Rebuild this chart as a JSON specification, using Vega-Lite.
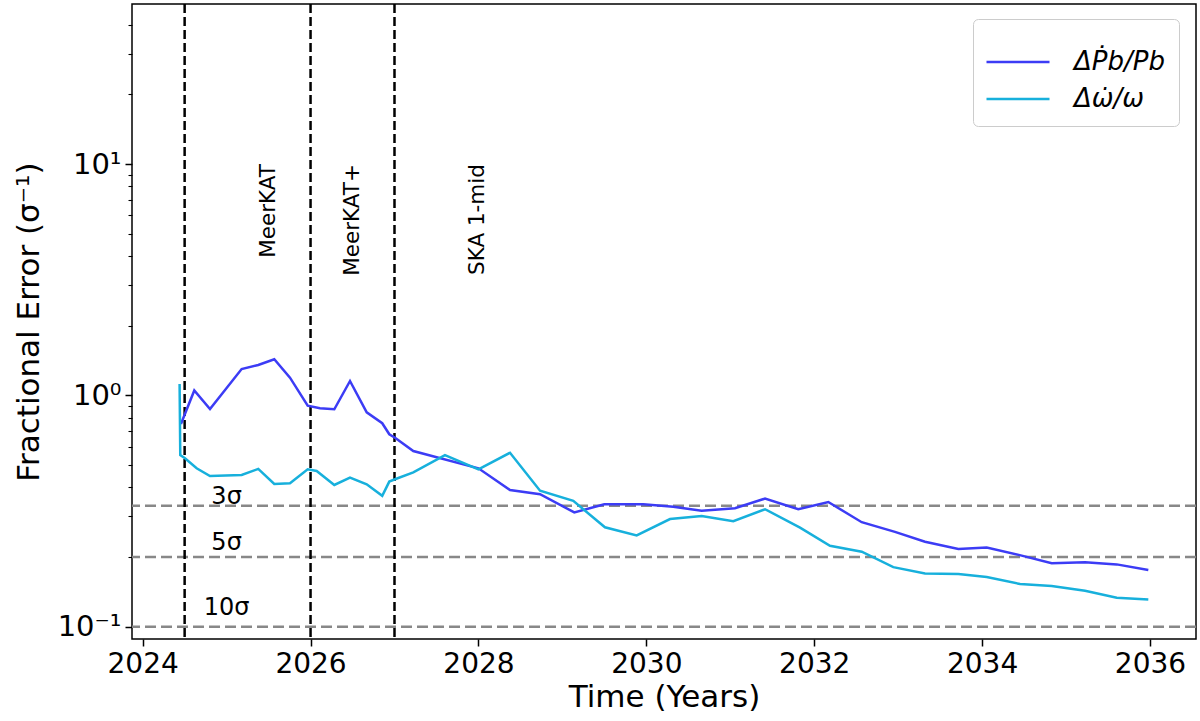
{
  "$schema": "https://vega.github.io/schema/vega-lite/v6.json",
  "autosize": {"type": "none"},
  "width": 1064,
  "height": 635,
  "padding": {"left": 132, "top": 4, "right": 4, "bottom": 82},
  "background": "white",
  "config": {
    "font": "DejaVu Sans",
    "view": {"stroke": "black", "strokeWidth": 1.5},
    "axis": {"grid": false, "domain": false, "tickColor": "black", "tickWidth": 1.5, "labelColor": "black", "titleColor": "black", "labelFont": "DejaVu Sans", "titleFont": "DejaVu Sans", "titleFontWeight": "normal"}
  },
  "datasets": {
    "series": [
      {"year": 2024.456, "err": 0.752, "series": "ΔṖb/Pb"},
      {"year": 2024.615, "err": 1.050, "series": "ΔṖb/Pb"},
      {"year": 2024.802, "err": 0.873, "series": "ΔṖb/Pb"},
      {"year": 2025.179, "err": 1.300, "series": "ΔṖb/Pb"},
      {"year": 2025.377, "err": 1.353, "series": "ΔṖb/Pb"},
      {"year": 2025.568, "err": 1.433, "series": "ΔṖb/Pb"},
      {"year": 2025.755, "err": 1.193, "series": "ΔṖb/Pb"},
      {"year": 2025.966, "err": 0.903, "series": "ΔṖb/Pb"},
      {"year": 2026.112, "err": 0.880, "series": "ΔṖb/Pb"},
      {"year": 2026.283, "err": 0.871, "series": "ΔṖb/Pb"},
      {"year": 2026.470, "err": 1.154, "series": "ΔṖb/Pb"},
      {"year": 2026.669, "err": 0.845, "series": "ΔṖb/Pb"},
      {"year": 2026.854, "err": 0.758, "series": "ΔṖb/Pb"},
      {"year": 2026.938, "err": 0.679, "series": "ΔṖb/Pb"},
      {"year": 2027.006, "err": 0.656, "series": "ΔṖb/Pb"},
      {"year": 2027.224, "err": 0.575, "series": "ΔṖb/Pb"},
      {"year": 2028.000, "err": 0.484, "series": "ΔṖb/Pb"},
      {"year": 2028.376, "err": 0.390, "series": "ΔṖb/Pb"},
      {"year": 2028.734, "err": 0.374, "series": "ΔṖb/Pb"},
      {"year": 2029.142, "err": 0.312, "series": "ΔṖb/Pb"},
      {"year": 2029.499, "err": 0.338, "series": "ΔṖb/Pb"},
      {"year": 2029.964, "err": 0.338, "series": "ΔṖb/Pb"},
      {"year": 2030.321, "err": 0.330, "series": "ΔṖb/Pb"},
      {"year": 2030.659, "err": 0.317, "series": "ΔṖb/Pb"},
      {"year": 2031.056, "err": 0.325, "series": "ΔṖb/Pb"},
      {"year": 2031.414, "err": 0.358, "series": "ΔṖb/Pb"},
      {"year": 2031.810, "err": 0.322, "series": "ΔṖb/Pb"},
      {"year": 2032.168, "err": 0.346, "series": "ΔṖb/Pb"},
      {"year": 2032.566, "err": 0.283, "series": "ΔṖb/Pb"},
      {"year": 2032.962, "err": 0.257, "series": "ΔṖb/Pb"},
      {"year": 2033.320, "err": 0.233, "series": "ΔṖb/Pb"},
      {"year": 2033.717, "err": 0.217, "series": "ΔṖb/Pb"},
      {"year": 2034.055, "err": 0.220, "series": "ΔṖb/Pb"},
      {"year": 2034.472, "err": 0.203, "series": "ΔṖb/Pb"},
      {"year": 2034.829, "err": 0.188, "series": "ΔṖb/Pb"},
      {"year": 2035.226, "err": 0.190, "series": "ΔṖb/Pb"},
      {"year": 2035.604, "err": 0.186, "series": "ΔṖb/Pb"},
      {"year": 2035.980, "err": 0.176, "series": "ΔṖb/Pb"},
      {"year": 2024.440, "err": 1.120, "series": "Δω̇/ω"},
      {"year": 2024.448, "err": 0.552, "series": "Δω̇/ω"},
      {"year": 2024.504, "err": 0.535, "series": "Δω̇/ω"},
      {"year": 2024.643, "err": 0.484, "series": "Δω̇/ω"},
      {"year": 2024.802, "err": 0.448, "series": "Δω̇/ω"},
      {"year": 2025.179, "err": 0.453, "series": "Δω̇/ω"},
      {"year": 2025.377, "err": 0.481, "series": "Δω̇/ω"},
      {"year": 2025.568, "err": 0.414, "series": "Δω̇/ω"},
      {"year": 2025.755, "err": 0.417, "series": "Δω̇/ω"},
      {"year": 2025.966, "err": 0.479, "series": "Δω̇/ω"},
      {"year": 2026.073, "err": 0.471, "series": "Δω̇/ω"},
      {"year": 2026.283, "err": 0.410, "series": "Δω̇/ω"},
      {"year": 2026.470, "err": 0.441, "series": "Δω̇/ω"},
      {"year": 2026.669, "err": 0.413, "series": "Δω̇/ω"},
      {"year": 2026.854, "err": 0.368, "series": "Δω̇/ω"},
      {"year": 2026.938, "err": 0.424, "series": "Δω̇/ω"},
      {"year": 2027.006, "err": 0.434, "series": "Δω̇/ω"},
      {"year": 2027.224, "err": 0.465, "series": "Δω̇/ω"},
      {"year": 2027.601, "err": 0.552, "series": "Δω̇/ω"},
      {"year": 2028.000, "err": 0.479, "series": "Δω̇/ω"},
      {"year": 2028.376, "err": 0.565, "series": "Δω̇/ω"},
      {"year": 2028.734, "err": 0.387, "series": "Δω̇/ω"},
      {"year": 2029.130, "err": 0.350, "series": "Δω̇/ω"},
      {"year": 2029.507, "err": 0.269, "series": "Δω̇/ω"},
      {"year": 2029.885, "err": 0.248, "series": "Δω̇/ω"},
      {"year": 2030.282, "err": 0.292, "series": "Δω̇/ω"},
      {"year": 2030.659, "err": 0.301, "series": "Δω̇/ω"},
      {"year": 2031.036, "err": 0.286, "series": "Δω̇/ω"},
      {"year": 2031.414, "err": 0.322, "series": "Δω̇/ω"},
      {"year": 2031.831, "err": 0.268, "series": "Δω̇/ω"},
      {"year": 2032.188, "err": 0.224, "series": "Δω̇/ω"},
      {"year": 2032.566, "err": 0.211, "series": "Δω̇/ω"},
      {"year": 2032.942, "err": 0.181, "series": "Δω̇/ω"},
      {"year": 2033.320, "err": 0.170, "series": "Δω̇/ω"},
      {"year": 2033.717, "err": 0.169, "series": "Δω̇/ω"},
      {"year": 2034.055, "err": 0.164, "series": "Δω̇/ω"},
      {"year": 2034.452, "err": 0.153, "series": "Δω̇/ω"},
      {"year": 2034.829, "err": 0.150, "series": "Δω̇/ω"},
      {"year": 2035.226, "err": 0.143, "series": "Δω̇/ω"},
      {"year": 2035.604, "err": 0.1335, "series": "Δω̇/ω"},
      {"year": 2035.980, "err": 0.131, "series": "Δω̇/ω"}
    ],
    "vlines": [{"year": 2024.5}, {"year": 2026.0}, {"year": 2027.0}],
    "hlines": [{"err": 0.3333}, {"err": 0.2}, {"err": 0.1}],
    "telescopes": [
      {"year": 2025.5, "err": 10, "label": "MeerKAT"},
      {"year": 2026.5, "err": 10, "label": "MeerKAT+"},
      {"year": 2028.0, "err": 10, "label": "SKA 1-mid"}
    ],
    "sigmas": [
      {"year": 2025.0, "err": 0.365, "label": "3σ"},
      {"year": 2025.0, "err": 0.229, "label": "5σ"},
      {"year": 2025.0, "err": 0.120, "label": "10σ"}
    ]
  },
  "encoding": {
    "x": {
      "field": "year", "type": "quantitative",
      "scale": {"domain": [2023.873, 2036.548], "nice": false, "zero": false},
      "axis": {"title": "Time (Years)", "values": [2024, 2026, 2028, 2030, 2032, 2034, 2036], "format": "d", "labelFontSize": 28, "titleFontSize": 31, "tickSize": 7, "labelPadding": 4, "titlePadding": 4}
    },
    "y": {
      "field": "err", "type": "quantitative",
      "scale": {"type": "log", "domain": [0.0885, 49.2], "nice": false},
      "axis": {
        "title": "Fractional Error (σ⁻¹)",
        "values": [0.1, 0.2, 0.3, 0.4, 0.5, 0.6, 0.7, 0.8, 0.9, 1, 2, 3, 4, 5, 6, 7, 8, 9, 10, 20, 30, 40],
        "labelExpr": "datum.value == 10 ? '10¹' : datum.value == 1 ? '10⁰' : datum.value == 0.1 ? '10⁻¹' : ''",
        "tickSize": {"condition": {"test": "datum.value == 10 || datum.value == 1 || datum.value == 0.1", "value": 7}, "value": 4},
        "tickWidth": {"condition": {"test": "datum.value == 10 || datum.value == 1 || datum.value == 0.1", "value": 1.5}, "value": 1.1},
        "labelFontSize": 29, "titleFontSize": 31, "labelPadding": 4, "titlePadding": 12
      }
    }
  },
  "layer": [
    {
      "data": {"name": "hlines"},
      "mark": {"type": "rule", "color": "#888888", "strokeWidth": 2.5, "strokeDash": [11, 5]},
      "encoding": {"y": {"field": "err", "type": "quantitative"}, "x": null}
    },
    {
      "data": {"name": "vlines"},
      "mark": {"type": "rule", "color": "black", "strokeWidth": 2.5, "strokeDash": [9, 4]},
      "encoding": {"x": {"field": "year", "type": "quantitative"}, "y": null}
    },
    {
      "data": {"name": "series"},
      "mark": {"type": "line", "strokeWidth": 2.5},
      "encoding": {
        "color": {
          "field": "series", "type": "nominal",
          "scale": {"domain": ["ΔṖb/Pb", "Δω̇/ω"], "range": ["#3c3cf5", "#17b0dc"]},
          "legend": {
            "title": " ", "titleFontSize": 14, "titlePadding": 2, "orient": "none", "legendX": 841, "legendY": 15,
            "symbolType": "M-3,0H3", "symbolSize": 441, "symbolStrokeWidth": 2.5, "symbolOffset": 18,
            "labelOffset": 43, "labelFontSize": 26, "labelFontStyle": "italic", "labelFont": "DejaVu Sans",
            "padding": 14, "rowPadding": 11, "strokeColor": "#cccccc", "fillColor": "white", "cornerRadius": 5
          }
        },
        "order": {"field": "year", "type": "quantitative"}
      }
    },
    {
      "data": {"name": "telescopes"},
      "mark": {"type": "text", "angle": 270, "align": "right", "baseline": "middle", "fontSize": 21.5, "font": "DejaVu Sans", "color": "black"},
      "encoding": {"text": {"field": "label"}}
    },
    {
      "data": {"name": "sigmas"},
      "mark": {"type": "text", "align": "center", "baseline": "middle", "fontSize": 24, "font": "DejaVu Sans", "color": "black"},
      "encoding": {"text": {"field": "label"}}
    }
  ]
}
